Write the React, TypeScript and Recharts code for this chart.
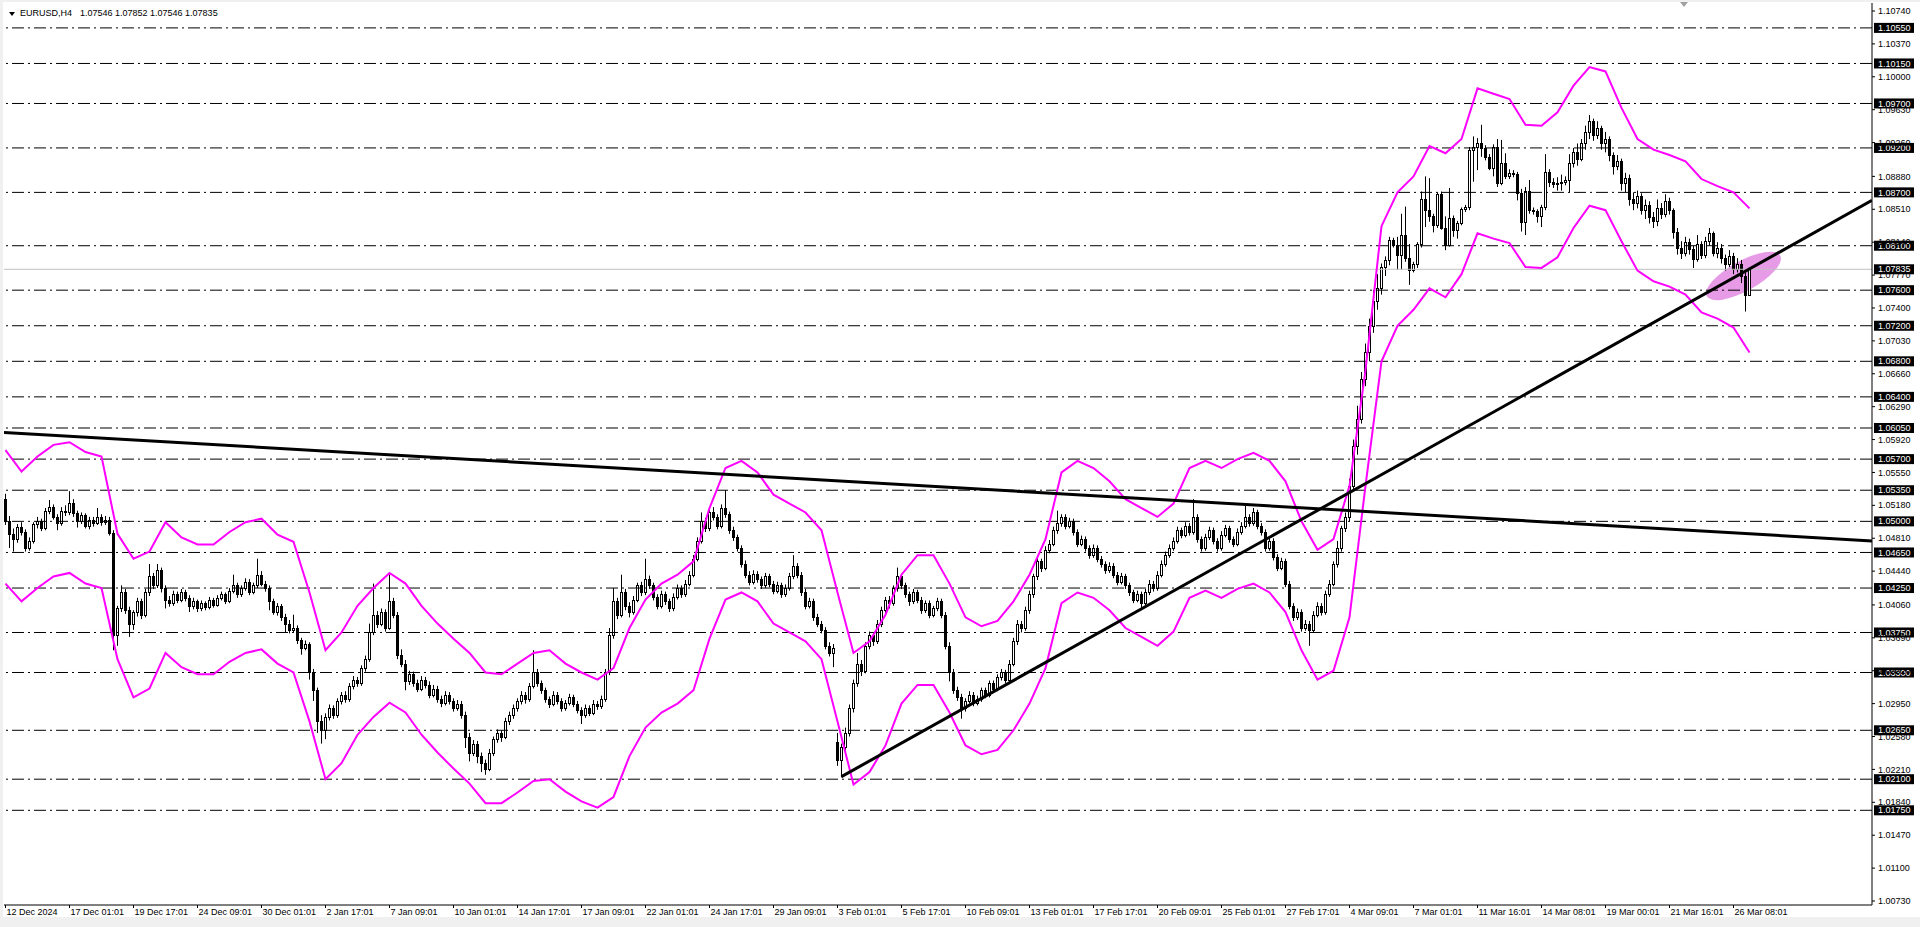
import React from "react";
import { ComposedChart, Bar, Line, Scatter, XAxis, YAxis, ReferenceLine } from "recharts";

// EURUSD H4, prices stored as pips above 1.0000 → [open, high, low, close]
const decBars: number[][] = [
  [525,531,496,500],[500,506,470,486],[486,492,466,480],[480,497,476,494],[494,499,484,488],[488,491,466,470],[470,482,467,478],[478,499,475,497],[497,505,492,500],[500,503,489,493],
  [493,515,490,512],[512,524,508,516],[516,519,502,505],[505,508,490,498],[498,516,495,512],[512,518,506,510],[510,534,507,521],[521,525,505,509],[509,512,493,500],[500,510,497,507],
  [507,509,492,495],[495,505,491,502],[502,505,494,498],[498,515,496,505],[505,508,495,499],[499,506,496,502],[502,505,484,487],[487,490,355,372],[372,405,360,402],[402,428,398,420],
  [420,424,396,400],[400,404,370,385],[385,400,378,398],[398,414,393,410],[410,413,390,395],[395,424,392,420],[420,452,416,438],[438,442,424,428],[428,452,425,445],[445,448,420,425],
  [425,428,402,412],[412,416,404,408],[408,422,405,418],[418,421,408,412],[412,424,409,420],[420,423,410,414],[414,417,398,405],[405,414,401,410],[410,412,398,402],[402,411,399,408],
  [408,410,400,404],[404,415,401,412],[412,414,403,406],[406,417,404,414],[414,421,411,418],[418,420,407,410],[410,425,408,422],[422,440,419,428],[428,431,414,418],[418,428,415,425],
  [425,436,422,432],[432,435,417,420],[420,431,418,428],[428,458,425,440],[440,444,427,430],[430,433,421,425],[425,428,400,410],[410,413,395,398],[398,408,394,405],[405,407,388,392],
  [392,396,375,385],[385,389,374,378],[378,395,375,380],[380,383,362,366],[366,369,350,358],[358,366,355,362],
];

const janBars: number[][] = [
  [362,364,322,330],[330,334,298,310],[310,313,262,275],[275,282,250,265],[265,284,255,280],[280,294,276,290],[290,293,278,282],[282,301,279,298],[298,308,294,305],[305,309,296,300],
  [300,318,297,315],[315,326,311,322],[322,325,314,318],[318,338,315,335],[335,349,331,345],[345,385,342,375],[375,430,372,395],[395,399,380,385],[385,402,382,398],[398,401,376,380],
  [380,440,378,410],[410,414,391,395],[395,398,345,350],[350,356,336,340],[340,344,310,320],[320,332,316,328],[328,331,314,318],[318,322,308,312],[312,326,309,322],[322,325,312,316],
  [316,320,301,305],[305,316,302,312],[312,315,296,300],[300,304,291,296],[296,309,293,305],[305,308,294,298],[298,301,286,290],[290,299,287,295],[295,298,278,282],[282,286,245,258],
  [258,262,230,240],[240,254,236,250],[250,253,228,236],[236,240,218,228],[228,232,215,222],[222,244,219,240],[240,258,236,255],[255,266,251,262],[262,265,252,258],[258,279,255,275],
  [275,286,271,282],[282,294,278,290],[290,301,286,298],[298,309,294,305],[305,308,295,300],[300,318,297,315],[315,355,312,330],[330,334,314,318],[318,321,306,310],[310,313,296,300],
  [300,303,290,295],[295,309,292,305],[305,308,294,298],[298,301,286,290],[290,299,287,296],[296,306,293,302],[302,305,291,295],[295,298,284,288],[288,291,272,282],[282,294,279,290],
  [290,293,281,285],[285,299,282,295],[295,298,288,292],[292,304,289,300],[300,334,297,330],[330,380,327,372],[372,425,368,410],[410,414,390,395],[395,440,392,420],[420,424,400,405],
  [405,409,392,398],[398,416,395,412],[412,431,409,428],[428,432,416,420],[420,458,417,435],[435,439,424,428],[428,431,411,415],[415,418,401,405],[405,422,402,418],[418,421,406,410],
  [410,413,398,402],[402,419,399,415],[415,429,412,425],[425,428,414,418],[418,434,415,430],[430,444,427,440],[440,462,437,458],[458,482,455,478],[478,510,475,500],[500,504,488,492],
  [492,514,489,510],[510,516,501,505],[505,508,491,495],[495,519,492,515],[515,535,504,508],[508,511,486,490],[490,494,478,482],[482,485,466,470],[470,473,448,452],[452,456,436,440],
  [440,444,428,432],[432,445,429,441],[441,444,431,435],[435,438,424,428],[428,442,425,438],[438,441,426,430],[430,433,418,422],[422,432,419,428],[428,431,414,418],[418,429,415,425],
  [425,442,422,438],[438,462,435,450],[450,453,436,440],[440,443,416,420],[420,424,401,405],[405,414,402,410],[410,413,388,392],[392,396,381,385],[385,388,374,378],[378,381,356,360],
  [360,364,348,352],[352,362,336,358],
];

const febBars: number[][] = [
  [252,262,225,232],[232,250,212,246],[246,268,242,262],[262,294,258,290],[290,322,285,318],[318,352,314,340],[340,344,326,332],[332,364,329,360],[360,376,356,372],[372,375,360,365],
  [365,389,362,385],[385,404,381,400],[400,415,396,412],[412,416,402,408],[408,428,405,425],[425,448,421,438],[438,441,424,428],[428,431,414,418],[418,421,405,410],[410,424,407,420],
  [420,423,408,412],[412,415,396,400],[400,411,397,408],[408,411,391,395],[395,405,392,402],[402,414,399,410],[410,413,391,395],[395,398,356,360],[360,364,320,330],[330,334,306,310],
  [310,314,298,302],[302,306,278,290],[290,301,286,298],[298,309,295,305],[305,308,292,296],[296,304,293,300],[300,313,297,310],[310,313,301,305],[305,321,302,318],[318,321,308,312],
  [312,328,309,325],[325,334,321,330],[330,333,318,322],[322,344,319,340],[340,369,337,365],[365,389,361,385],[385,388,375,380],[380,404,377,400],[400,422,396,418],[418,441,414,438],
  [438,459,434,455],[455,458,443,448],[448,472,445,468],[468,479,464,475],[475,494,472,490],[490,512,486,498],[498,508,494,505],[505,508,491,495],[495,504,492,500],[500,503,484,488],
  [488,491,471,475],[475,484,472,480],[480,483,466,470],[470,473,458,462],[462,474,459,470],[470,473,454,458],[458,461,448,452],[452,455,441,445],[445,454,442,450],[450,453,436,440],
  [440,443,428,432],[432,442,429,438],[438,441,424,428],[428,431,416,420],[420,423,408,412],[412,422,409,418],[418,421,400,408],[408,424,405,420],[420,434,417,430],[430,433,421,425],
  [425,444,422,440],[440,456,437,452],[452,466,449,462],[462,474,459,470],[470,482,467,478],[478,494,475,490],[490,493,481,485],[485,499,482,495],[495,498,484,488],[488,525,485,505],
  [505,508,476,480],[480,483,466,470],[470,486,467,482],[482,494,479,490],[490,493,474,478],[478,481,466,470],[470,489,467,485],[485,496,482,492],[492,495,476,480],[480,483,471,475],
  [475,492,472,488],[488,499,485,495],[495,518,492,505],[505,508,494,498],[498,515,495,510],[510,513,491,495],[495,498,484,488],[488,491,466,470],[470,482,467,478],[478,481,456,460],
  [460,463,444,448],[448,459,445,455],[455,458,426,430],[430,433,401,405],[405,408,388,392],[392,402,389,398],[398,401,376,380],[380,389,377,385],[385,388,360,378],[378,399,375,395],
];

const marBars: number[][] = [
  [395,409,392,405],[405,408,394,398],[398,422,395,418],[418,434,415,430],[430,455,427,452],[452,478,448,470],[470,495,466,492],[492,510,488,505],[505,548,500,540],[540,592,535,585],
  [585,630,575,615],[615,668,610,660],[660,700,652,690],[690,728,680,720],[720,760,712,748],[748,778,738,762],[762,790,755,786],[786,798,776,794],[794,820,788,816],[816,819,808,811],
  [811,820,783,800],[800,846,783,822],[822,854,792,796],[796,812,766,783],[783,792,780,790],[790,814,785,812],[812,871,808,862],[862,888,831,850],[850,886,837,843],[843,846,825,833],
  [833,870,830,868],[868,871,828,830],[830,843,805,811],[811,875,809,841],[841,844,820,828],[828,838,818,836],[836,853,833,851],[851,856,848,854],[854,921,850,918],[918,933,882,921],
  [921,931,895,926],[926,946,910,920],[920,923,906,910],[910,913,895,897],[897,924,888,921],[921,930,876,880],[880,929,878,903],[903,914,885,888],[888,896,885,892],[892,895,887,891],
  [891,893,861,869],[869,874,826,837],[837,876,822,872],[872,884,846,850],[850,853,845,849],[849,851,836,843],[843,856,831,854],[854,913,850,893],[893,896,876,882],[882,886,875,879],
  [879,887,872,880],[880,890,872,882],[882,888,878,884],[884,913,870,903],[903,920,898,915],[915,925,900,908],[908,930,905,925],[925,945,918,938],[938,957,930,950],[950,953,928,935],
  [935,950,930,942],[942,945,918,925],[925,938,915,930],[930,933,905,912],[912,915,890,900],[900,912,895,905],[905,908,872,880],[880,892,870,886],[886,890,855,862],[862,870,850,858],
  [858,872,852,866],[866,869,845,850],[850,862,840,856],[856,860,835,842],[842,848,830,838],[838,862,832,852],[852,858,840,846],[846,868,842,860],[860,864,845,850],[850,852,818,826],
  [826,830,800,808],[808,815,795,802],[802,820,798,814],[814,818,800,806],[806,810,785,795],[795,822,792,812],[812,815,795,800],[800,820,796,815],[815,830,810,824],[824,826,798,802],
  [802,814,796,808],[808,812,790,796],[796,800,782,790],[790,805,786,799],[799,802,778,784],[784,796,780,790],[790,794,768,776],[776,780,736,754.6],[754.6,785.2,754.6,783.5],
];

// envelope bands, read every 4th bar (pips above 1.0000)
const ENV_STEP = 4;
const envUpper = [
  580,556,573,586,589,578,573,486,458,466,
  499,482,474,474,488,499,503,485,477,420,
  355,375,405,425,442,430,405,385,368,352,
  330,328,340,352,355,340,330,322,335,380,
  412,430,440,455,515,560,568,555,530,520,
  510,490,420,352,365,395,440,462,462,430,
  392,382,388,410,440,480,555,568,560,545,
  525,515,505,520,560,568,560,570,577,568,
  545,500,468,480,540,670,832,870,888,922,
  914,930,987,981,975,946,945,960,990,1011,
  1006,965,930,918,912,905,885,877,870,852,
];
const envLower = [
  430,410,425,438,442,430,425,345,302,312,
  352,336,328,328,342,352,356,340,330,275,
  210,228,260,280,296,285,260,240,222,205,
  183,183,195,208,210,196,185,178,190,236,
  268,285,295,310,368,412,420,410,385,375,
  365,345,275,204,218,248,295,316,316,285,
  248,238,243,265,295,335,408,420,414,400,
  380,370,360,376,414,422,414,424,430,420,
  398,355,322,332,392,540,680,720,738,762,
  752,778,824,818,813,786,785,797,830,855,
  850,815,782,770,764,755,735,728,718,690,
];

const levels = [
  1.1055, 1.1015, 1.097, 1.092, 1.087, 1.081, 1.076, 1.072, 1.068, 1.064, 1.0605,
  1.057, 1.0535, 1.05, 1.0465, 1.0425, 1.0375, 1.033, 1.0265, 1.021, 1.0175,
];
const bidPrice = 1.07835;

const priceTicks = [
  1.1074, 1.1037, 1.1, 1.0963, 1.0926, 1.0888, 1.0851, 1.0814, 1.0777, 1.074, 1.0703, 1.0666, 1.0629, 1.0592,
  1.0555, 1.0518, 1.0481, 1.0444, 1.0406, 1.0369, 1.0332, 1.0295, 1.0258, 1.0221, 1.0184, 1.0147, 1.011, 1.0073,
];

const timeTicks = [0, 16, 32, 48, 64, 80, 96, 112, 128, 144, 160, 176, 192, 208, 224, 240, 256, 272, 288, 304, 320, 336, 352, 368, 384, 400, 416, 432];
const timeLabels = [
  "12 Dec 2024", "17 Dec 01:01", "19 Dec 17:01", "24 Dec 09:01", "30 Dec 01:01", "2 Jan 17:01", "7 Jan 09:01",
  "10 Jan 01:01", "14 Jan 17:01", "17 Jan 09:01", "22 Jan 01:01", "24 Jan 17:01", "29 Jan 09:01", "3 Feb 01:01",
  "5 Feb 17:01", "10 Feb 09:01", "13 Feb 01:01", "17 Feb 17:01", "20 Feb 09:01", "25 Feb 01:01", "27 Feb 17:01",
  "4 Mar 09:01", "7 Mar 01:01", "11 Mar 16:01", "14 Mar 08:01", "19 Mar 00:01", "21 Mar 16:01", "26 Mar 08:01",
];

// trend lines (bar index, price)
const supportLine = [{ i: 209, p: 1.02129 }, { i: 466.625, p: 1.0861 }];
const resistanceLine = [{ i: -0.375, p: 1.06 }, { i: 466.625, p: 1.0478 }];
const markEllipse = [{ i: 434.5, e: 1.0776 }];

const X_DOMAIN: [number, number] = [-0.375, 466.625];
const Y_DOMAIN: [number, number] = [1.00685, 1.1083];
const FONT = "'Liberation Sans', Arial, sans-serif";

const pip = (v: number) => 1 + v / 10000;
const bars = [...decBars, ...janBars, ...febBars, ...marBars];
const rows = bars.map(([o, h, l, c], i) => ({
  i,
  o: pip(o),
  h: pip(h),
  l: pip(l),
  c: pip(c),
  hl: [pip(l), pip(h)],
  up: i % ENV_STEP === 0 && envUpper[i / ENV_STEP] != null ? pip(envUpper[i / ENV_STEP]) : null,
  lo: i % ENV_STEP === 0 && envLower[i / ENV_STEP] != null ? pip(envLower[i / ENV_STEP]) : null,
}));

function Candle(props: any) {
  const { x, y, width, height } = props;
  const d = props.payload ?? props;
  if (x == null || y == null || height == null) return null;
  const top0 = height < 0 ? y + height : y;
  const hh = Math.abs(height);
  const span = d.h - d.l || 1;
  const at = (v: number) => top0 + ((d.h - v) / span) * hh;
  const cx = Math.round(x + width / 2) + 0.5;
  const bTop = Math.round(at(Math.max(d.o, d.c))) + 0.5;
  const bBot = Math.round(at(Math.min(d.o, d.c))) + 0.5;
  const bull = d.c >= d.o;
  return (
    <g>
      <line x1={cx} x2={cx} y1={top0} y2={top0 + hh} stroke="#000" strokeWidth={1} />
      <rect
        x={cx - 1}
        y={bTop}
        width={2}
        height={Math.max(bBot - bTop, 0)}
        fill={bull ? "#fff" : "#000"}
        stroke="#000"
        strokeWidth={1}
      />
    </g>
  );
}

function EllipseMark(props: any) {
  const { cx, cy } = props;
  if (cx == null || cy == null) return null;
  return (
    <ellipse
      cx={cx}
      cy={cy}
      rx={42}
      ry={15}
      transform={`rotate(-29 ${cx} ${cy})`}
      fill="#e38ae3"
      fillOpacity={0.85}
    />
  );
}

function LevelTag(props: any) {
  const { viewBox, text } = props;
  if (!viewBox) return null;
  const x = viewBox.x + viewBox.width + 2;
  const y = viewBox.y;
  return (
    <g>
      <rect x={x} y={y - 5} width={40} height={10} fill="#000" />
      <text x={x + 4} y={y} dy="0.35em" fill="#fff" fontSize={9} fontFamily={FONT}>
        {text}
      </text>
    </g>
  );
}

function PriceTick(props: any) {
  const { x, y, payload } = props;
  return (
    <text x={x} y={y} dy="0.35em" textAnchor="start" fill="#000" fontSize={9} fontFamily={FONT}>
      {Number(payload.value).toFixed(5)}
    </text>
  );
}

function TimeTick(props: any) {
  const { x, y, payload } = props;
  const k = timeTicks.indexOf(payload.value);
  return (
    <text x={x + 1} y={y} dy="0.71em" textAnchor="start" fill="#000" fontSize={9} fontFamily={FONT}>
      {k >= 0 ? timeLabels[k] : ""}
    </text>
  );
}

export default function App() {
  return (
    <div style={{ position: "absolute", left: 0, top: 0, width: 1920, height: 927, background: "#f0f0f0", overflow: "hidden" }}>
      <div style={{ position: "absolute", left: 3, top: 2, width: 1917, height: 915, background: "#fff" }} />
      <div style={{ position: "absolute", left: 0, top: 0 }}>
        <ComposedChart width={1920} height={917} data={rows} margin={{ top: 3, right: 0, bottom: 0, left: 4 }}>
          <XAxis
            dataKey="i"
            type="number"
            domain={X_DOMAIN}
            allowDataOverflow
            ticks={timeTicks}
            interval={0}
            height={12}
            tickSize={3}
            tickMargin={1}
            tick={<TimeTick />}
            tickLine={{ stroke: "#000" }}
            axisLine={{ stroke: "#000" }}
          />
          <XAxis
            xAxisId="top"
            orientation="top"
            type="number"
            domain={X_DOMAIN}
            allowDataOverflow
            height={0}
            tick={false}
            tickLine={false}
            axisLine={{ stroke: "#000" }}
          />
          <YAxis
            orientation="right"
            type="number"
            domain={Y_DOMAIN}
            allowDataOverflow
            ticks={priceTicks}
            interval={0}
            width={48}
            tickSize={3}
            tickMargin={3}
            tick={<PriceTick />}
            tickLine={{ stroke: "#000" }}
            axisLine={{ stroke: "#000" }}
          />
          <YAxis
            yAxisId="left"
            orientation="left"
            type="number"
            domain={Y_DOMAIN}
            allowDataOverflow
            width={0}
            tick={false}
            tickLine={false}
            axisLine={{ stroke: "#000" }}
          />

          {levels.map((v) => (
            <ReferenceLine
              key={v}
              y={v}
              stroke="#000"
              strokeWidth={1}
              strokeDasharray="12 4 2 4"
              label={<LevelTag text={v.toFixed(5)} />}
            />
          ))}
          <ReferenceLine y={bidPrice} stroke="#c0c0c0" strokeWidth={1} label={<LevelTag text={bidPrice.toFixed(5)} />} />

          <Scatter data={markEllipse} dataKey="e" shape={<EllipseMark />} isAnimationActive={false} zIndex={250} />

          <Bar dataKey="hl" barSize={3} shape={(p: any) => <Candle {...p} />} isAnimationActive={false} />

          <Line dataKey="up" type="linear" stroke="#ff00ff" strokeWidth={2} dot={false} connectNulls isAnimationActive={false} />
          <Line dataKey="lo" type="linear" stroke="#ff00ff" strokeWidth={2} dot={false} connectNulls isAnimationActive={false} />

          <ReferenceLine
            segment={[{ x: resistanceLine[0].i, y: resistanceLine[0].p }, { x: resistanceLine[1].i, y: resistanceLine[1].p }]}
            stroke="#000"
            strokeWidth={3}
            ifOverflow="hidden"
          />
          <ReferenceLine
            segment={[{ x: supportLine[0].i, y: supportLine[0].p }, { x: supportLine[1].i, y: supportLine[1].p }]}
            stroke="#000"
            strokeWidth={3}
            ifOverflow="hidden"
          />
        </ComposedChart>
      </div>
      {/* chart-shift marker */}
      <div style={{ position: "absolute", left: 1680, top: 2, width: 0, height: 0, borderLeft: "4px solid transparent", borderRight: "4px solid transparent", borderTop: "5px solid #a0a0a0" }} />
      <div style={{ position: "absolute", left: 9, top: 12, width: 0, height: 0, borderLeft: "3px solid transparent", borderRight: "3px solid transparent", borderTop: "4px solid #000" }} />
      <div style={{ position: "absolute", left: 20, top: 8, fontFamily: FONT, fontSize: 9, lineHeight: "11px", color: "#000", whiteSpace: "pre" }}>
        EURUSD,H4
      </div>
      <div style={{ position: "absolute", left: 80, top: 8, fontFamily: FONT, fontSize: 9, lineHeight: "11px", color: "#000", whiteSpace: "pre" }}>
        1.07546 1.07852 1.07546 1.07835
      </div>
    </div>
  );
}
